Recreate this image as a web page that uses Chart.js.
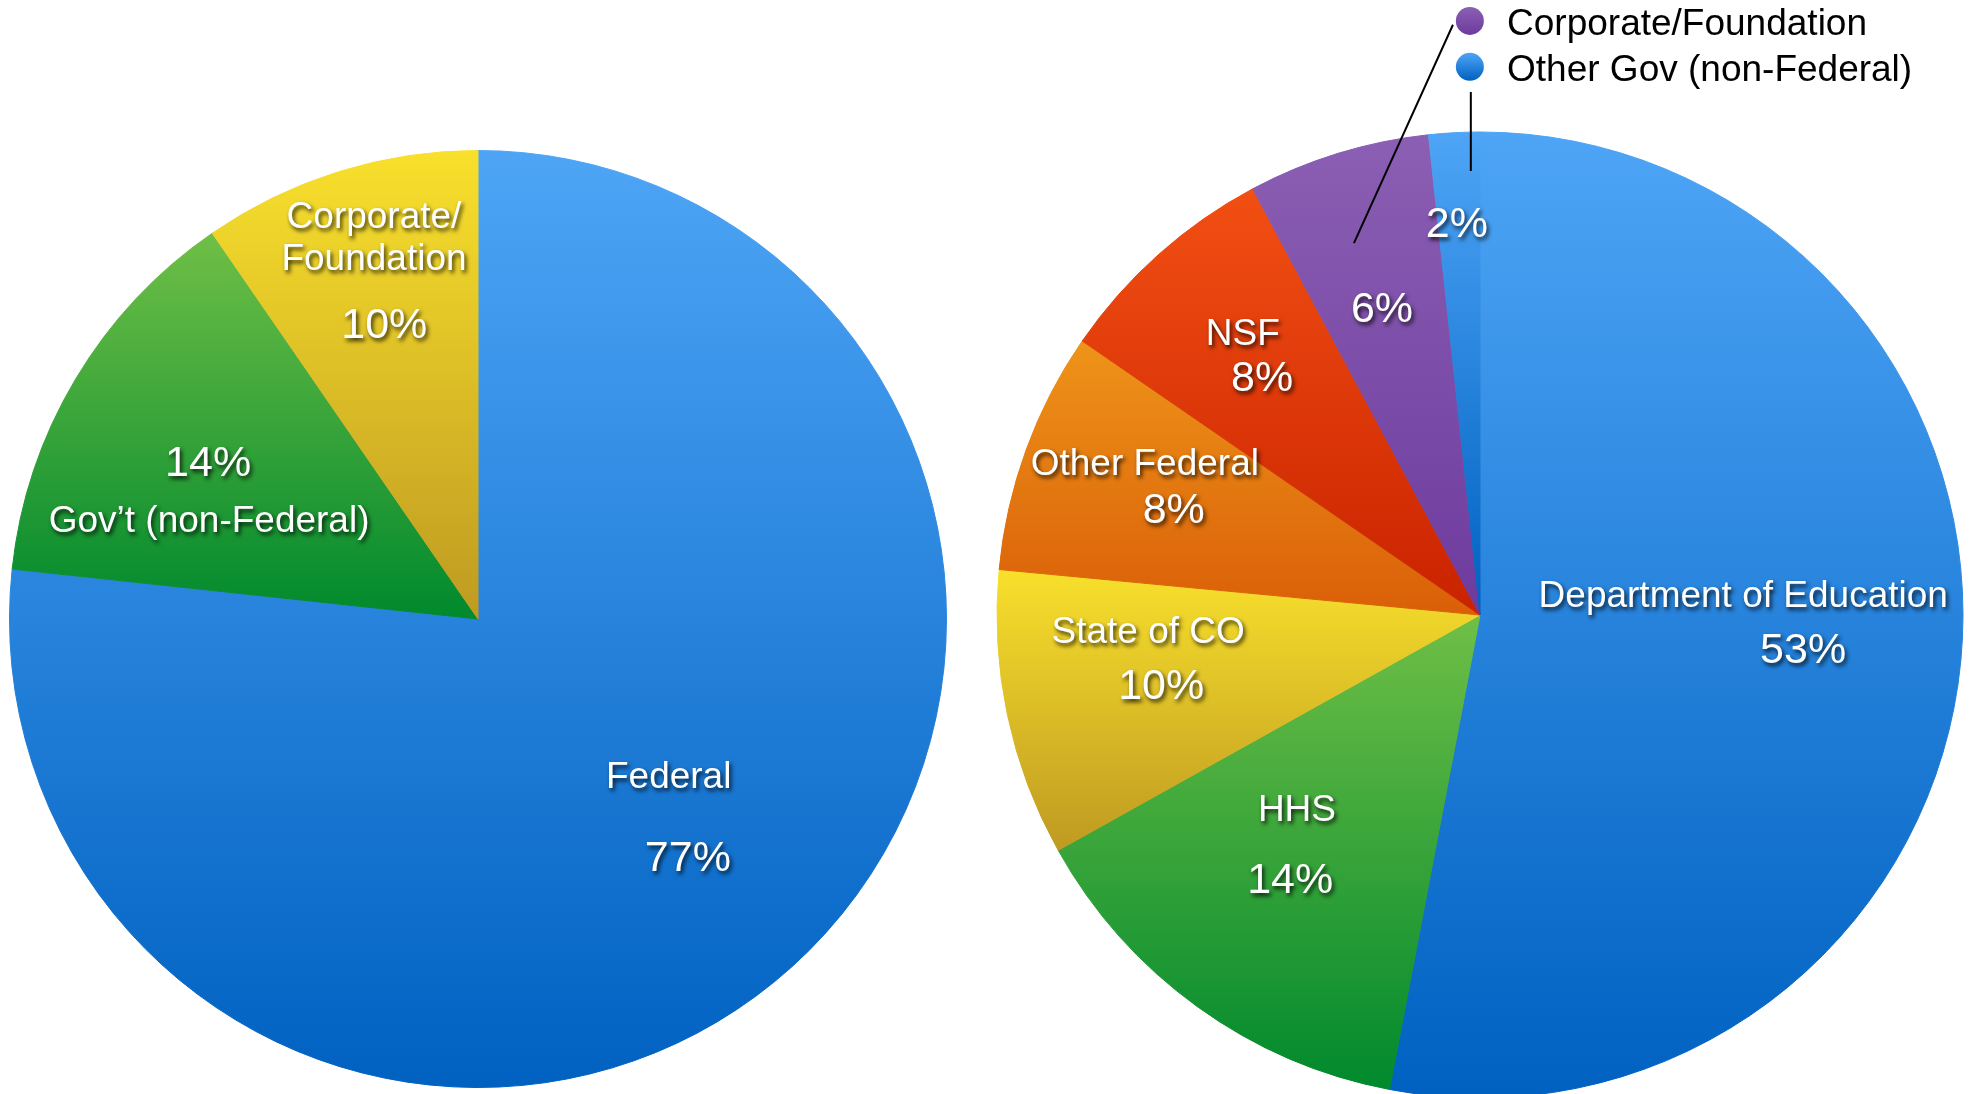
<!DOCTYPE html>
<html>
<head>
<meta charset="utf-8">
<script src="https://cdn.jsdelivr.net/npm/chart.js@4.4.1/dist/chart.umd.min.js"></script>
<style>
  html, body { margin: 0; padding: 0; background: #fff; overflow: hidden; }
  #fundingChart { position: absolute; left: 0; top: 0; }
  #sourceChart { position: absolute; left: 985px; top: 0; }
</style>
</head>
<body>
<canvas id="fundingChart" width="985" height="1094"></canvas>
<canvas id="sourceChart" width="988" height="1094"></canvas>
<script>
// left pie: funding by sector
const fundingCategories = ['Federal', 'Gov’t (non-Federal)', 'Corporate/Foundation'];
const fundingShares = [76.7, 13.7, 9.6];
const fundingNames = [['Federal'], ['Gov’t (non-Federal)'], ['Corporate/', 'Foundation']];
const fundingPercents = ['77%', '14%', '10%'];

// right pie: funding by source
const sourceCategories = ['Department of Education', 'HHS', 'State of CO', 'Other Federal', 'NSF', 'Corporate/Foundation', 'Other Gov (non-Federal)'];
const sourceShares = [53.0, 13.9, 9.6, 8.1, 7.6, 6.1, 1.7];
const sourceNames = [['Department of Education'], ['HHS'], ['State of CO'], ['Other Federal'], ['NSF'], [], []];
const sourcePercents = ['53%', '14%', '10%', '8%', '8%', '6%', '2%'];

// callout legend for the two thin slices
const calloutCategories = ['Corporate/Foundation', 'Other Gov (non-Federal)'];

const palette = {
    blue: ['#4ea5f6', '#0061c1'],
    green: ['#6fbf46', '#00892d'],
    yellow: ['#f8e02c', '#bf9a21'],
    orange: ['#ee9419', '#da5f08'],
    red: ['#f24f13', '#c92200'],
    purple: ['#8b5fb3', '#6d3b9e'],
};
const fundingColors = [palette.blue, palette.green, palette.yellow];
const sourceColors = [palette.blue, palette.green, palette.yellow, palette.orange, palette.red, palette.purple, palette.blue];

// label placement, in units of the pie radius from its centre
const fundingLabelPos = [
    { names: [[0.407, 0.330]], pct: [0.448, 0.505] },
    { names: [[-0.574, -0.215]], pct: [-0.576, -0.339] },
    { names: [[-0.222, -0.864], [-0.222, -0.776]], pct: [-0.200, -0.633] },
];
const sourceLabelPos = [
    { names: [[0.545, -0.046]], pct: [0.669, 0.066] },
    { names: [[-0.379, 0.398]], pct: [-0.393, 0.542] },
    { names: [[-0.687, 0.029]], pct: [-0.660, 0.141] },
    { names: [[-0.694, -0.319]], pct: [-0.634, -0.224] },
    { names: [[-0.491, -0.588]], pct: [-0.451, -0.497] },
    { names: [], pct: [-0.203, -0.640] },
    { names: [], pct: [-0.048, -0.816] },
];

const FONT = '"Liberation Sans", Arial, Helvetica, sans-serif';

// vertical gradient spanning the slice's own bounding box
function sliceGradient(colors) {
    return (ctx) => {
        const chart = ctx.chart;
        const area = chart.chartArea;
        if (!area || ctx.dataIndex === undefined) return colors[0][0];
        const pair = colors[ctx.dataIndex];
        const meta = chart.getDatasetMeta(ctx.datasetIndex);
        const r = meta.controller.outerRadius;
        if (!r) return pair[0];
        const cy = (area.top + area.bottom) / 2;
        const data = chart.data.datasets[ctx.datasetIndex].data;
        const total = data.reduce((a, b) => a + b, 0);
        let before = 0;
        for (let i = 0; i < ctx.dataIndex; i++) before += data[i];
        const a0 = before / total * 2 * Math.PI;
        const a1 = (before + data[ctx.dataIndex]) / total * 2 * Math.PI;
        const ys = [cy, cy - r * Math.cos(a0), cy - r * Math.cos(a1)];
        if (a0 <= 0) ys.push(cy - r);
        if (a0 <= Math.PI && a1 >= Math.PI) ys.push(cy + r);
        if (a1 >= 2 * Math.PI - 1e-6) ys.push(cy - r);
        const top = Math.min(...ys);
        const bottom = Math.max(...ys);
        const g = chart.ctx.createLinearGradient(0, top, 0, bottom);
        g.addColorStop(0, pair[0]);
        g.addColorStop(1, pair[1]);
        return g;
    };
}

function shadowText(c, text, x, y, size) {
    c.save();
    c.font = size + 'px ' + FONT;
    c.textAlign = 'center';
    c.textBaseline = 'middle';
    c.shadowColor = 'rgba(0,0,0,0.8)';
    c.shadowBlur = 4;
    c.shadowOffsetX = 2;
    c.shadowOffsetY = 3;
    c.fillStyle = '#fff';
    c.fillText(text, x, y + 4);
    c.restore();
}

function sliceLabels(names, percents, positions) {
    return {
        id: 'sliceLabels',
        afterDatasetsDraw(chart) {
            const arc = chart.getDatasetMeta(0).data[0];
            const cx = arc.x, cy = arc.y, r = arc.outerRadius;
            positions.forEach((p, i) => {
                names[i].forEach((line, j) => {
                    shadowText(chart.ctx, line, cx + p.names[j][0] * r, cy + p.names[j][1] * r, 37);
                });
                shadowText(chart.ctx, percents[i], cx + p.pct[0] * r, cy + p.pct[1] * r, 43);
            });
        }
    };
}

const callouts = {
    id: 'callouts',
    afterDraw(chart) {
        const arc = chart.getDatasetMeta(0).data[0];
        const cx = arc.x, cy = arc.y, r = arc.outerRadius;
        const c = chart.ctx;
        c.save();
        c.strokeStyle = '#000';
        c.lineWidth = 2;
        c.beginPath();
        c.moveTo(cx - 0.056 * r, cy - 1.222 * r);
        c.lineTo(cx - 0.261 * r, cy - 0.770 * r);
        c.moveTo(cx - 0.019 * r, cy - 1.083 * r);
        c.lineTo(cx - 0.019 * r, cy - 0.919 * r);
        c.stroke();

        const rowY = [cy - 1.230 * r, cy - 1.135 * r];
        const markerColors = [palette.purple, palette.blue];
        calloutCategories.forEach((name, i) => {
            const mx = cx - 0.021 * r;
            const g = c.createLinearGradient(0, rowY[i] - 14, 0, rowY[i] + 14);
            g.addColorStop(0, markerColors[i][0]);
            g.addColorStop(1, markerColors[i][1]);
            c.fillStyle = g;
            c.beginPath();
            c.arc(mx, rowY[i], 14, 0, Math.PI * 2);
            c.fill();
            c.fillStyle = '#000';
            c.font = '37px ' + FONT;
            c.textAlign = 'left';
            c.textBaseline = 'middle';
            c.fillText(name, cx + 0.056 * r, rowY[i] + 4);
        });
        c.restore();
    }
};

const commonOptions = {
    responsive: false,
    animation: false,
    plugins: { legend: { display: false }, tooltip: { enabled: false } },
};

new Chart(document.getElementById('fundingChart'), {
    type: 'pie',
    data: {
        labels: fundingCategories,
        datasets: [{
            data: fundingShares,
            backgroundColor: sliceGradient(fundingColors),
            borderColor: sliceGradient(fundingColors),
            borderWidth: 1,
        }]
    },
    options: {
        ...commonOptions,
        layout: { padding: { left: 9, top: 150, right: 38, bottom: 6 } },
    },
    plugins: [sliceLabels(fundingNames, fundingPercents, fundingLabelPos)]
});

new Chart(document.getElementById('sourceChart'), {
    type: 'pie',
    data: {
        labels: sourceCategories,
        datasets: [{
            data: sourceShares,
            backgroundColor: sliceGradient(sourceColors),
            borderColor: sliceGradient(sourceColors),
            borderWidth: 1,
            radius: 483,
        }]
    },
    options: {
        ...commonOptions,
        layout: { padding: { left: 12, top: 136, right: 10, bottom: 0 } },
    },
    plugins: [sliceLabels(sourceNames, sourcePercents, sourceLabelPos), callouts]
});
</script>
</body>
</html>
